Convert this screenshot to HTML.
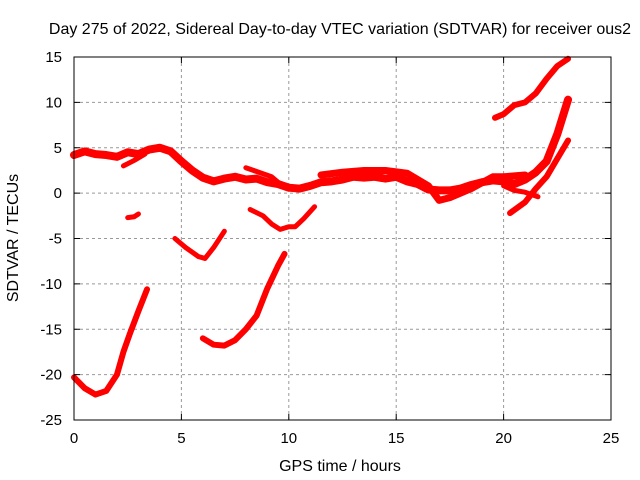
<!DOCTYPE html>
<html><head><meta charset="utf-8"><style>
body{margin:0;background:#fff}
svg{display:block;font-family:"Liberation Sans",sans-serif;font-size:15px}
</style></head><body>
<svg id="chart" width="640" height="480" viewBox="0 0 640 480">
<rect width="640" height="480" fill="#fff"/>
<text x="340" y="34" text-anchor="middle" fill="#000" font-size="16">Day 275 of 2022, Sidereal Day-to-day VTEC variation (SDTVAR) for receiver ous2</text>
<g id="grid"></g>
<g id="series"></g>
<rect x="74" y="57" width="537" height="363" fill="none" stroke="#000" stroke-width="1"/>
<g id="ticks"></g>
<text x="340" y="471" text-anchor="middle" font-size="16">GPS time / hours</text>
<text transform="translate(18,238) rotate(-90)" text-anchor="middle" font-size="16">SDTVAR / TECUs</text>
</svg>
<script>
const xTicks=[0,5,10,15,20,25];
const yTicks=[15,10,5,0,-5,-10,-15,-20,-25];
const sAh=[0,0.5,1,1.5,2,2.5,3,3.5,4,4.5,5,5.5,6,6.5,7,7.5,8,8.5,9,9.5,10,10.5,11,11.5,12,12.5,13,13.5,14,14.5,15,15.5,16,16.5,17,17.5,18,18.5,19,19.5,20,20.5,21,21.5,22,22.5,23];
const sAv=[4.2,4.6,4.3,4.2,4.0,4.5,4.3,4.8,5.0,4.6,3.5,2.5,1.7,1.3,1.6,1.8,1.5,1.6,1.2,1.0,0.6,0.5,0.8,1.2,1.3,1.5,1.8,1.7,1.8,1.6,1.8,1.3,1.0,0.4,0.3,0.3,0.5,0.9,1.2,1.4,1.3,1.0,1.5,2.3,3.5,6.5,10.3];
const sBh=[2.3,2.8,3.3];
const sBv=[3.0,3.6,4.3];
const sB2h=[8.0,8.6,9.2,9.6];
const sB2v=[2.8,2.3,1.8,1.0];
const sCh=[11.5,12.5,13.5,14.5,15.5,16,16.5,17,17.5,18.5,19.5,20,20.5,21];
const sCv=[2.0,2.3,2.5,2.5,2.2,1.5,0.8,-0.8,-0.5,0.5,1.8,1.8,1.9,2.0];
const sDh=[20.3,21,21.5,22,22.5,23];
const sDv=[-2.2,-1.0,0.5,1.8,3.8,5.8];
const sEh=[19.6,20,20.5,21,21.5,22,22.5,23];
const sEv=[8.3,8.7,9.7,10.0,11.0,12.6,14.0,14.8];
const sFh=[0,0.5,1,1.5,2,2.3,2.6,3,3.4];
const sFv=[-20.3,-21.5,-22.2,-21.8,-20,-17.5,-15.5,-13,-10.6];
const sGh=[2.5,2.8,3.0];
const sGv=[-2.7,-2.6,-2.3];
const sHh=[4.7,5.2,5.8,6.1,6.5,7.0];
const sHv=[-5,-6,-7,-7.2,-6,-4.2];
const sIh=[6,6.5,7,7.5,8,8.5,9,9.5,9.8];
const sIv=[-16,-16.7,-16.8,-16.2,-15,-13.5,-10.5,-8,-6.7];
const sJh=[8.2,8.8,9.2,9.6,10,10.3,10.7,11.2];
const sJv=[-1.8,-2.5,-3.4,-4,-3.7,-3.7,-2.8,-1.5];
const sKh=[20,20.5,21,21.6];
const sKv=[0.8,0.3,0.1,-0.4];
const seriesList=[[sAh,sAv,8],[sBh,sBv,5],[sB2h,sB2v,5],[sCh,sCv,7],[sDh,sDv,6],[sEh,sEv,6],[sFh,sFv,6],[sGh,sGv,5],[sHh,sHv,5],[sIh,sIv,6],[sJh,sJv,5],[sKh,sKv,5]];
const X0=74,X1=611,Y0=420,Y1=57;
const px=h=>X0+(h-0)/(25-0)*(X1-X0);
const py=v=>Y0-(v+25)/(40)*(Y0-Y1);
const NS="http://www.w3.org/2000/svg";
const grid=document.getElementById('grid'),ticks=document.getElementById('ticks'),ser=document.getElementById('series');
function mk(t,a,p){const e=document.createElementNS(NS,t);for(const k in a)e.setAttribute(k,a[k]);p.appendChild(e);return e;}
xTicks.forEach(t=>{const x=px(t);
 if(t>0&&t<25){const l=mk('line',{x1:x,x2:x,y1:Y1,y2:Y0,stroke:'#999','stroke-dasharray':'3,3'},grid);
 
 }
 mk('line',{x1:x,x2:x,y1:Y0,y2:Y0-6,stroke:'#000'},ticks);mk('line',{x1:x,x2:x,y1:Y1,y2:Y1+6,stroke:'#000'},ticks);
 const tx=mk('text',{x:x,y:Y0+23,'text-anchor':'middle'},ticks);tx.textContent=t;
 
 });
yTicks.forEach(t=>{const y=py(t);
 if(t>-25&&t<15){const l=mk('line',{x1:X0,x2:X1,y1:y,y2:y,stroke:'#999','stroke-dasharray':'3,3'},grid);
 
 }
 mk('line',{x1:X0,x2:X0+6,y1:y,y2:y,stroke:'#000'},ticks);mk('line',{x1:X1,x2:X1-6,y1:y,y2:y,stroke:'#000'},ticks);
 const tx=mk('text',{x:X0-12,y:y+5,'text-anchor':'end'},ticks);tx.textContent=t;
 
 });
seriesList.forEach((s,i)=>{const pts=s[0].map((h,j)=>px(h)+','+py(s[1][j])).join(' ');
 const p=mk('polyline',{points:pts,fill:'none',stroke:'#f00','stroke-width':s[2],'stroke-linejoin':'round','stroke-linecap':'round'},ser);
 
 });
</script>
</body></html>
